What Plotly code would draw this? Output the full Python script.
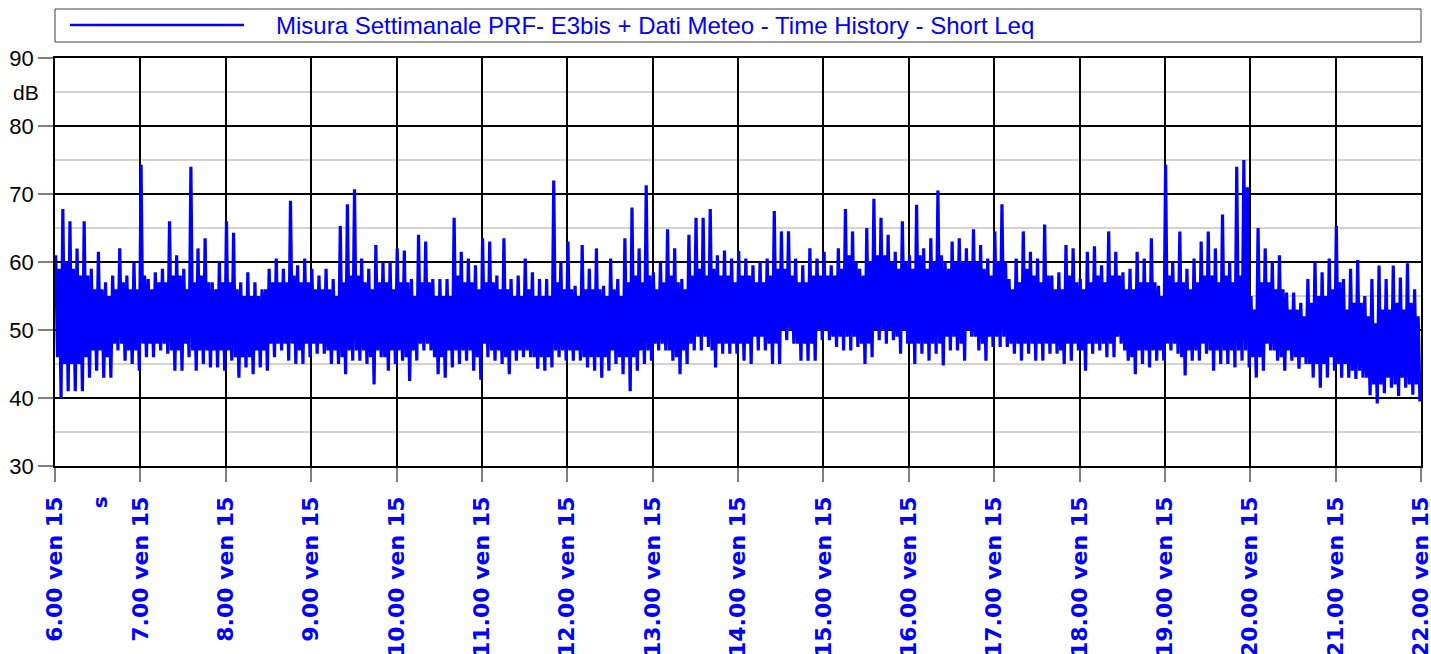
import plotly.graph_objects as go

# ---- data: per 5-minute interval, Short Leq in dB ----
# pk = highest peak, tr = deepest trough, up = typical upper level, dn = typical lower level
hours = list(range(6, 23))
tick_labels = [f"{h}.00 ven 15" for h in hours]

pk_06 = [61, 67.8, 66, 62, 66, 59, 61.5, 57, 58, 62, 58, 60]
tr_06 = [40, 41, 41, 41, 43, 44, 43, 43, 47, 45.5, 45, 44]
up_06 = [59, 60, 59, 58, 58, 56, 56, 55, 56, 57, 56, 56]
dn_06 = [46, 45, 45, 45, 46, 47, 47, 46, 48, 48, 47, 47]

pk_07 = [74.3, 57.5, 58.5, 59, 66, 61, 59, 74, 62, 63.5, 57, 60]
tr_07 = [46, 46, 47, 46.5, 44, 44, 46, 44, 45, 44.5, 44.5, 44]
up_07 = [58, 56, 57, 57, 58, 58, 56, 57, 58, 57, 56, 57]
dn_07 = [48, 48, 48, 48, 47, 47, 48, 47, 47, 47, 47, 47]

pk_08 = [66, 64.3, 57, 58.5, 57, 56, 59, 60.5, 59, 69, 59.5, 60.5]
tr_08 = [45.5, 43, 44.5, 43.5, 44.5, 44, 46, 47, 45.5, 45, 45, 46]
up_08 = [57, 56, 55, 55, 55, 56, 57, 57, 57, 58, 57, 57]
dn_08 = [47, 46, 46, 46, 47, 47, 48, 48, 48, 48, 47, 48]

pk_09 = [59, 58, 59, 57.5, 65.3, 68.5, 70.7, 60.5, 59, 62.5, 60, 60]
tr_09 = [46.5, 46.5, 45, 45, 43.5, 45.5, 45.5, 45, 42, 46, 44, 45]
up_09 = [56, 56, 56, 55, 57, 58, 58, 57, 56, 57, 57, 56]
dn_09 = [48, 48, 47, 47, 46, 47, 47, 47, 46, 47, 46, 47]

pk_10 = [62, 61.7, 57.5, 64, 63, 57.5, 57.5, 57.5, 66.5, 61.5, 60.5, 59.5]
tr_10 = [45.5, 42.5, 45.5, 47, 47, 43.5, 43, 44.5, 45, 45.5, 44, 42.7]
up_10 = [57, 57, 55, 57, 57, 55, 55, 55, 58, 57, 57, 56]
dn_10 = [47, 46, 47, 48, 48, 46, 46, 47, 47, 47, 47, 46]

pk_11 = [63.5, 63, 58, 63.5, 57.5, 58, 60.5, 58.5, 57.5, 57.5, 72, 60]
tr_11 = [46, 45.5, 45, 43.5, 45.5, 46, 46, 44.3, 44, 44.5, 46, 45.5]
up_11 = [57, 57, 56, 56, 55, 55, 56, 55, 55, 55, 57, 56]
dn_11 = [48, 47, 47, 46, 47, 47, 47, 46, 46, 46, 47, 47]

pk_12 = [63, 56.5, 62.5, 59, 62, 56.5, 60.5, 57.5, 63.5, 68, 62, 71.3]
tr_12 = [45.5, 45.5, 44.5, 44, 43, 44, 45, 43.5, 41, 44, 45, 45.5]
up_12 = [56, 55, 56, 56, 56, 55, 56, 55, 57, 58, 57, 58]
dn_12 = [47, 47, 46, 46, 46, 46, 47, 46, 46, 46, 47, 47]

pk_13 = [58.5, 60, 64.8, 62, 57.5, 64, 66.5, 66.5, 67.8, 61, 61.7, 60.5]
tr_13 = [47, 47, 45.5, 43.5, 45, 47, 47, 47.5, 44.5, 46.5, 46.5, 46.5]
up_13 = [56, 57, 58, 57, 56, 58, 59, 58, 59, 58, 58, 57]
dn_13 = [48, 48, 47, 46, 47, 48, 49, 49, 47, 48, 48, 48]

pk_14 = [61.6, 60.5, 59.5, 60, 60.5, 67.5, 64.5, 64.5, 60.5, 59.5, 62, 60.5]
tr_14 = [45.5, 45, 47, 47, 45, 45, 48.5, 48, 45.5, 45.5, 45.5, 48.5]
up_14 = [58, 58, 57, 57, 58, 59, 59, 58, 57, 57, 58, 58]
dn_14 = [48, 48, 49, 49, 48, 48, 50, 50, 48, 48, 48, 50]

pk_15 = [61.5, 59.5, 62, 67.8, 64.5, 59, 65, 69.3, 66.5, 64, 61.5, 66]
tr_15 = [48.5, 47.5, 47, 47, 47.5, 45, 46, 48.5, 48, 48.5, 46.5, 48]
up_15 = [58, 58, 59, 61, 60, 58, 60, 61, 61, 60, 59, 60]
dn_15 = [50, 49, 49, 49, 49, 48, 48, 50, 50, 50, 49, 50]

pk_16 = [61, 68.4, 62, 63.5, 70.5, 60, 63, 63.5, 62, 64.8, 62.5, 60.5]
tr_16 = [45, 46.5, 45.5, 46.5, 44.8, 47, 47, 45.5, 49, 47, 45.5, 47.5]
up_16 = [59, 61, 59, 60, 61, 59, 60, 60, 60, 60, 59, 58]
dn_16 = [48, 48, 48, 48, 48, 49, 49, 48, 50, 49, 48, 49]

pk_17 = [64.5, 68.5, 57.5, 60.5, 64.5, 61.5, 60.5, 65.5, 58, 58.5, 62.5, 62]
tr_17 = [47.5, 47.5, 46.5, 45.5, 46.5, 45.5, 45.5, 46.5, 46.5, 45, 45.5, 47]
up_17 = [60, 60, 56, 57, 59, 58, 57, 58, 56, 56, 58, 57]
dn_17 = [49, 49, 48, 48, 48, 48, 48, 48, 48, 47, 48, 48]

pk_18 = [57.5, 61.5, 62.3, 59.5, 64.5, 61.5, 58.5, 59, 61.5, 60.5, 63.5, 56.5]
tr_18 = [44, 46.5, 47, 46, 46, 48, 45.5, 43.5, 45, 44.5, 45.5, 45.5]
up_18 = [56, 57, 58, 57, 58, 58, 56, 56, 57, 57, 57, 55]
dn_18 = [47, 48, 48, 48, 48, 49, 47, 46, 47, 47, 47, 47]

pk_19 = [74.3, 60, 64.5, 59, 60.5, 63, 64.5, 62, 67, 60, 74, 75]
tr_19 = [47, 46.5, 43.3, 45.5, 45.5, 46.5, 44, 45, 45, 44.5, 45.5, 44.5]
up_19 = [58, 57, 57, 56, 57, 58, 58, 57, 58, 57, 58, 71]
dn_19 = [48, 48, 46, 47, 47, 48, 47, 47, 47, 47, 47, 47]

pk_20 = [55, 65, 62, 60, 61, 55.5, 55.5, 54, 57.5, 60, 58.5, 60.5]
tr_20 = [43, 44, 47, 45.5, 44, 45.5, 44.3, 45, 43, 41.5, 43, 44]
up_20 = [53, 57, 57, 56, 56, 53, 53, 52, 54, 55, 55, 56]
dn_20 = [46, 46, 48, 47, 46, 47, 46, 46, 45, 45, 45, 46]

pk_21 = [65.3, 57.5, 59, 60.3, 55, 57.5, 59.5, 57.5, 59.5, 57.7, 59.8, 56]
tr_21 = [43, 43, 42.8, 43, 40.4, 39.2, 40.7, 41.5, 40.3, 41.5, 40.5, 39.5]
up_21 = [57, 53, 54, 54, 52, 51, 53, 53, 54, 53, 54, 52]
dn_21 = [45, 45, 44, 44, 43, 42, 42, 43, 42, 43, 42, 42]

pk_all = (pk_06 + pk_07 + pk_08 + pk_09 + pk_10 + pk_11 + pk_12 + pk_13
          + pk_14 + pk_15 + pk_16 + pk_17 + pk_18 + pk_19 + pk_20 + pk_21)
tr_all = (tr_06 + tr_07 + tr_08 + tr_09 + tr_10 + tr_11 + tr_12 + tr_13
          + tr_14 + tr_15 + tr_16 + tr_17 + tr_18 + tr_19 + tr_20 + tr_21)
up_all = (up_06 + up_07 + up_08 + up_09 + up_10 + up_11 + up_12 + up_13
          + up_14 + up_15 + up_16 + up_17 + up_18 + up_19 + up_20 + up_21)
dn_all = (dn_06 + dn_07 + dn_08 + dn_09 + dn_10 + dn_11 + dn_12 + dn_13
          + dn_14 + dn_15 + dn_16 + dn_17 + dn_18 + dn_19 + dn_20 + dn_21)

start_hour = 6.0
step_min = 5.0
# sample order inside each 5-minute interval (minutes after interval start)
offsets_min = [0.5, 1.75, 3.0, 4.25]

xs, ys = [], []
for i in range(len(pk_all)):
    t0 = start_hour + i * step_min / 60.0
    vals = [pk_all[i], dn_all[i], up_all[i], tr_all[i]]
    for off, v in zip(offsets_min, vals):
        xs.append(t0 + off / 60.0)
        ys.append(v)

BLUE = "#0000ff"
FONT = "Liberation Sans"
XFONT = "DejaVu Sans"

fig = go.Figure()
fig.add_trace(go.Scatter(
    x=xs, y=ys, mode="lines",
    line=dict(color=BLUE, width=3.2),
    name="Misura Settimanale PRF- E3bis + Dati Meteo - Time History - Short Leq",
    showlegend=False, hoverinfo="x+y",
))

L, R, T, B = 55, 10, 58, 188
W, H = 1431, 654
pw, ph = W - L - R, H - T - B

def px_x(px):
    return (px - L) / pw

def px_y(py):
    return (H - B - py) / ph

shapes = [
    dict(type="rect", xref="paper", yref="paper", x0=0, x1=1,
         y0=px_y(42), y1=px_y(9), line=dict(color="#404040", width=1),
         fillcolor="white", layer="above"),
    dict(type="line", xref="paper", yref="paper", x0=px_x(70), x1=px_x(244),
         y0=px_y(25), y1=px_y(25), line=dict(color=BLUE, width=2.5)),
]

annotations = [
    dict(text="Misura Settimanale PRF- E3bis + Dati Meteo - Time History - Short Leq",
         xref="paper", yref="paper", x=px_x(274), y=px_y(25),
         xanchor="left", yanchor="middle", showarrow=False,
         font=dict(family=FONT, size=24, color=BLUE)),
    dict(text="dB", xref="paper", yref="y", x=px_x(41), y=85,
         xanchor="right", yanchor="middle", showarrow=False,
         font=dict(family=FONT, size=21, color="#000000")),
    dict(text="s", xref="x", yref="paper", x=6.53, y=px_y(494),
         xanchor="center", yanchor="top", textangle=-90, showarrow=False,
         font=dict(family=XFONT, size=20, color=BLUE, weight="bold")),
]

fig.update_layout(
    width=W, height=H,
    margin=dict(l=L, r=R, t=T, b=B, pad=0, autoexpand=False),
    paper_bgcolor="white", plot_bgcolor="white",
    shapes=shapes, annotations=annotations,
    showlegend=False,
    xaxis=dict(
        range=[6, 22], tickmode="array", tickvals=hours, ticktext=tick_labels,
        tickangle=-90, tickfont=dict(family=XFONT, size=22, color=BLUE, weight="bold"),
        ticklabelstandoff=6, ticklabeloverflow="allow", automargin=False,
        showgrid=True, gridcolor="#000000", gridwidth=1.5,
        ticks="outside", ticklen=14, tickcolor="#808080", tickwidth=1.5,
        showline=True, linecolor="#000000", linewidth=1.5, mirror=True,
        zeroline=False,
    ),
    yaxis=dict(
        range=[30, 90], tickmode="linear", tick0=30, dtick=10,
        tickfont=dict(family=FONT, size=22, color="#000000"), automargin=False,
        showgrid=True, gridcolor="#000000", gridwidth=1.5,
        ticks="outside", ticklen=15, tickcolor="#808080", tickwidth=1.5,
        showline=True, linecolor="#000000", linewidth=1.5, mirror=True,
        zeroline=False,
        minor=dict(dtick=5, tick0=30, showgrid=True, gridcolor="#d3d3d3", gridwidth=1.5),
    ),
)

fig.write_html(
    "out.html",
    config={"displayModeBar": False},
    post_script="document.body.style.margin='0px';document.body.style.overflow='hidden';",
)
